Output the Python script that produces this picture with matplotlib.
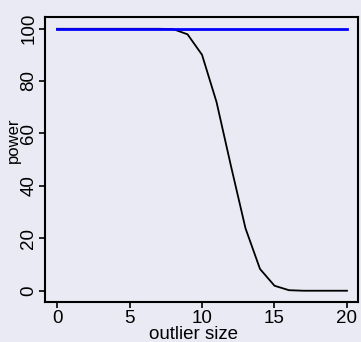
import numpy as np
import matplotlib
matplotlib.use('Agg')
import matplotlib.pyplot as plt

# data
outlier_size = np.arange(0, 21)
power_blue = [99.9] * 21
power_black = [99.9, 99.9, 99.9, 99.9, 99.9, 99.9, 99.9, 99.9, 99.8, 97.8,
               90.0, 72.0, 47.5, 23.8, 8.3, 1.9, 0.2, 0.0, 0.0, 0.0, 0.0]
xticks = [0, 5, 10, 15, 20]
yticks = [0, 20, 40, 60, 80, 100]

bg = '#eaeaf4'
plt.rcParams['font.family'] = ['Liberation Sans', 'DejaVu Sans']

fig = plt.figure(figsize=(3.61, 3.42), dpi=100, facecolor=bg)
ax = fig.add_axes([45 / 361, 40 / 342, 313 / 361, 285 / 342], facecolor=bg)

ax.plot(outlier_size, power_black, color='black', lw=1.3)
ax.plot(outlier_size, power_blue, color='#0000ff', lw=2.0)

ax.set_xlim(-0.83, 20.76)
ax.set_ylim(-4.3, 104.4)
ax.set_xticks(xticks)
ax.set_yticks(yticks)
ax.tick_params(direction='out', length=4, width=1.2, labelsize=13.5, pad=1.5)
for lab in ax.get_yticklabels():
    lab.set_rotation(90)
    lab.set_va('center')
for s in ax.spines.values():
    s.set_linewidth(1.5)

ax.set_xlabel('outlier size', fontsize=13.5)
ax.xaxis.set_label_coords(0.474, -0.085, transform=ax.transAxes)
ax.set_ylabel('power', fontsize=12)
ax.yaxis.set_label_coords(-0.078, 0.567, transform=ax.transAxes)

fig.savefig('out.png', dpi=100, facecolor=bg)
